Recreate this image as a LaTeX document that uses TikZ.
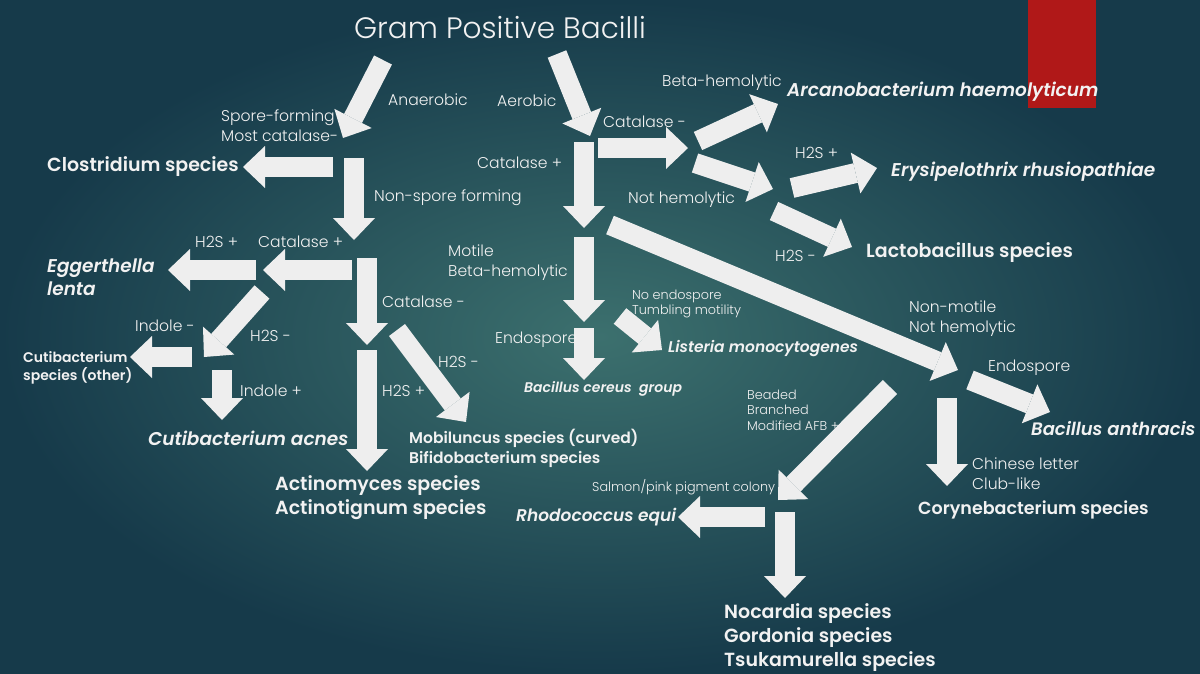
\documentclass[tikz,border=0pt]{standalone}
\usepackage{fontspec}
\setmainfont{Poppins}[UprightFont={* Light}]
\usepackage{xcolor}
\usetikzlibrary{arrows.meta}
\definecolor{slidein}{RGB}{60,112,110}
\definecolor{slideout}{RGB}{22,58,74}
\definecolor{ribbon}{RGB}{176,24,24}
\definecolor{chalk}{RGB}{238,238,238}
\definecolor{ink}{RGB}{242,242,242}

\begin{document}
\begin{tikzpicture}[
  x=1pt, y=-1pt,
  lbl/.style={text=ink, anchor=west, align=left, inner sep=0pt, font=\fontsize{15.6}{20}\selectfont},
  tiny/.style={lbl, font=\fontsize{12.8}{15.5}\selectfont},
  bug/.style={lbl, font=\bfseries\fontsize{19}{24}\selectfont},
  bugit/.style={lbl, font=\bfseries\itshape\fontsize{18.5}{23}\selectfont},
  barrow/.style={draw=chalk, line width=20pt, -{Triangle[length=22pt, width=42pt, line width=0pt]}},
]
% slide
\shade[inner color=slidein, outer color=slideout] (0,0) rectangle (1200,673);
\fill[ribbon] (1028,0) rectangle (1096,108);
\node[text=ink, font=\fontsize{29.5}{34}\selectfont] (title) at (500,28) {Gram Positive Bacilli};

% anaerobic side
\coordinate (anaT) at (383,60);   \coordinate (anaH) at (343,138);
\coordinate (cloT) at (333,167);  \coordinate (cloH) at (243,167);
\coordinate (nspT) at (354,158);  \coordinate (nspH) at (354,240);
\coordinate (capT) at (352,270);  \coordinate (capH) at (263,270);
\coordinate (egT)  at (256,270);  \coordinate (egH)  at (168,270);
\coordinate (hnT)  at (262,292);  \coordinate (hnH)  at (204,357);
\coordinate (inT)  at (192,357);  \coordinate (inH)  at (130,357);
\coordinate (ipT)  at (222,370);  \coordinate (ipH)  at (222,420);
\coordinate (canT) at (367,258);  \coordinate (canH) at (367,345);
\coordinate (actT) at (367,350);  \coordinate (actH) at (367,471);
\coordinate (mobT) at (397,330);  \coordinate (mobH) at (466,422);
\foreach \a in {ana,clo,nsp,cap,eg,hn,in,ip,can,act,mob}
  \draw[barrow] (\a T) -- (\a H);

% aerobic side
\coordinate (aerT) at (557,54);   \coordinate (aerH) at (590,136);
\coordinate (kpT)  at (584,142);  \coordinate (kpH)  at (584,228);
\coordinate (knT)  at (598,148);  \coordinate (knH)  at (688,148);
\coordinate (btT)  at (698,141);  \coordinate (btH)  at (778,104);
\coordinate (nhT)  at (695,163);  \coordinate (nhH)  at (773,189);
\coordinate (erT)  at (792,188);  \coordinate (erH)  at (877,168);
\coordinate (laT)  at (774,211);  \coordinate (laH)  at (852,247);
\coordinate (lgT)  at (610,225);  \coordinate (lgH)  at (958,370);
\coordinate (moT)  at (584,237);  \coordinate (moH)  at (584,322);
\coordinate (ceT)  at (584,328);  \coordinate (ceH)  at (584,380);
\coordinate (liT)  at (620,316);  \coordinate (liH)  at (662,350);
\coordinate (baT)  at (970,380);  \coordinate (baH)  at (1050,412);
\coordinate (coT)  at (947,398);  \coordinate (coH)  at (947,486);
\coordinate (bdT)  at (890,387);  \coordinate (bdH)  at (778,500);
\coordinate (rhT)  at (765,517);  \coordinate (rhH)  at (678,517);
\coordinate (noT)  at (785,512);  \coordinate (noH)  at (785,598);
\foreach \a in {aer,kp,kn,bt,nh,er,la,lg,mo,ce,li,ba,co,bd,rh,no}
  \draw[barrow] (\a T) -- (\a H);

% labels, anaerobic
\node[lbl] (lana) at (388,100) {Anaerobic};
\node[lbl] (lspo) at (221,126) {Spore-forming\\Most catalase-};
\node[bug] (clos) at (47,167) {Clostridium species};
\node[lbl] (lnsp) at (374,198) {Non-spore forming};
\node[lbl] (lcap) at (258,242) {Catalase +};
\node[lbl] (lhp1) at (195,242) {H2S +};
\node[bugit] (egg) at (47,277) {Eggerthella\\lenta};
\node[lbl] (lhn1) at (250,336) {H2S -};
\node[lbl] (lin) at (135,326) {Indole -};
\node[bug, font=\bfseries\fontsize{14}{18}\selectfont] (cuto) at (23,368) {Cutibacterium\\species (other)};
\node[lbl] (lip) at (240,391) {Indole +};
\node[bugit] (acne) at (148,438) {Cutibacterium acnes};
\node[lbl] (lcan) at (382,302) {Catalase -};
\node[lbl] (lhp2) at (382,391) {H2S +};
\node[lbl] (lhn2) at (438,362) {H2S -};
\node[bug] (acti) at (275,498) {Actinomyces species\\Actinotignum species};
\node[bug, font=\bfseries\fontsize{15.5}{20}\selectfont] (mobi) at (409,448) {Mobiluncus species (curved)\\Bifidobacterium species};

% labels, aerobic
\node[lbl] (laer) at (497,101) {Aerobic};
\node[lbl] (lkp) at (477,163) {Catalase +};
\node[lbl] (lkn) at (603,122) {Catalase -};
\node[lbl] (lbt) at (662,83) {Beta-hemolytic};
\node[bugit] (arca) at (787,92) {Arcanobacterium haemolyticum};
\node[lbl] (lnh) at (628,200) {Not hemolytic};
\node[lbl] (lhp3) at (795,153) {H2S +};
\node[bugit] (erys) at (891,172) {Erysipelothrix rhusiopathiae};
\node[lbl] (lhn3) at (775,256) {H2S -};
\node[bug] (lact) at (866,253) {Lactobacillus species};
\node[lbl] (lmo) at (448,263) {Motile\\Beta-hemolytic};
\node[lbl] (lce) at (495,340) {Endospore};
\node[bugit, font=\bfseries\itshape\fontsize{14}{18}\selectfont] (cere) at (524,389) {Bacillus cereus\ \ group};
\node[tiny] (lli) at (632,304) {No endospore\\Tumbling motility};
\node[bugit, font=\bfseries\itshape\fontsize{15.5}{20}\selectfont] (list) at (668,349) {Listeria monocytogenes};
\node[lbl] (lnm) at (909,319) {Non-motile\\Not hemolytic};
\node[lbl] (lba) at (988,368) {Endospore};
\node[bugit, font=\bfseries\itshape\fontsize{18}{23}\selectfont] (anth) at (1031,429) {Bacillus anthracis};
\node[lbl] (lco) at (972,474) {Chinese letter\\Club-like};
\node[bug, font=\bfseries\fontsize{17.5}{24}\selectfont] (cory) at (918,510) {Corynebacterium species};
\node[tiny] (lbd) at (747,410) {Beaded\\Branched\\Modified AFB +};
\node[tiny] (lrh) at (592,487) {Salmon/pink pigment colony};
\node[bugit, font=\bfseries\itshape\fontsize{17}{23}\selectfont] (rhod) at (516,517) {Rhodococcus equi};
\node[bug] (noca) at (724,638) {Nocardia species\\Gordonia species\\Tsukamurella species};
\end{tikzpicture}
\end{document}
